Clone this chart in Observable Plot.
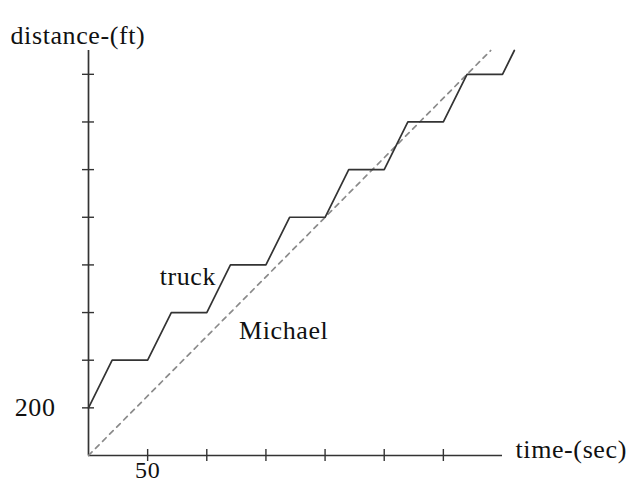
<!DOCTYPE html>
<html>
<head>
<meta charset="utf-8">
<script src="https://cdn.jsdelivr.net/npm/d3@7"></script>
<script src="https://cdn.jsdelivr.net/npm/@observablehq/plot@0.6"></script>
<style>
  html, body { margin: 0; padding: 0; background: white; }
</style>
</head>
<body>
<div id="chart"></div>
<script>
// Truck: moves 200 ft in 20 s, then stops 30 s at each pail
const truckTime = [0, 20, 50, 70, 100, 120, 150, 170, 200, 220, 250, 270, 300, 320, 350, 360];
const truckDist = [200, 400, 400, 600, 600, 800, 800, 1000, 1000, 1200, 1200, 1400, 1400, 1600, 1600, 1700];
// Michael: walks at 5 ft/s
const michaelTime = [0, 340];
const michaelDist = [0, 1700];
// Ticks
const xTicks = [50, 100, 150, 200, 250, 300];
const yTicks = [200, 400, 600, 800, 1000, 1200, 1400, 1600];
const xTickLabels = [{t: 50, label: "50"}];
const yTickLabels = [{d: 200, label: "200"}];
const curveLabels = [
  {t: 84, d: 750, label: "truck"},
  {t: 165, d: 525, label: "Michael"}
];
const xLabel = "time-(sec)";
const yLabel = "distance-(ft)";

const truck = truckTime.map((t, i) => ({t, d: truckDist[i]}));
const michael = michaelTime.map((t, i) => ({t, d: michaelDist[i]}));

const font = "Liberation Serif";
const ink = "#333";
const fs = 26;

const chart = Plot.plot({
  width: 629,
  height: 484,
  marginLeft: 88,
  marginRight: 127,
  marginTop: 50,
  marginBottom: 29,
  x: {domain: [0, 350]},
  y: {domain: [0, 1700]},
  axis: null,
  style: {fontFamily: font, background: "white", color: "#111", letterSpacing: "0.6px"},
  marks: [
    // axes lines
    Plot.ruleX([0], {stroke: ink, strokeWidth: 1.7}),
    Plot.ruleY([0], {stroke: ink, strokeWidth: 1.7}),
    // tick marks crossing the axes
    Plot.ruleX(xTicks, {x: d => d, y1: 0, y2: 0, insetTop: -6, insetBottom: -6, stroke: ink, strokeWidth: 1.4}),
    Plot.ruleY(yTicks, {y: d => d, x1: 0, x2: 0, insetLeft: -6, insetRight: -6, stroke: ink, strokeWidth: 1.4}),
    // Michael dashed line
    Plot.line(michael, {x: "t", y: "d", stroke: "#8a8a8a", strokeWidth: 1.7, strokeDasharray: "5,5"}),
    // truck polyline
    Plot.line(truck, {x: "t", y: "d", stroke: ink, strokeWidth: 1.7}),
    // tick labels
    Plot.text(xTickLabels, {x: "t", y: 0, text: "label", dy: 15, fontSize: 24, fill: "#111"}),
    Plot.text(yTickLabels, {x: 0, y: "d", text: "label", dx: -33, textAnchor: "end", fontSize: fs, fill: "#111"}),
    // curve labels
    Plot.text(curveLabels, {x: "t", y: "d", text: "label", fontSize: fs, fill: "#111"}),
    // axis labels
    Plot.text([yLabel], {frameAnchor: "top-left", dx: -78, dy: -25, textAnchor: "start", fontSize: fs, fill: "#111"}),
    Plot.text([xLabel], {frameAnchor: "bottom-right", dx: 13, dy: 2, textAnchor: "start", fontSize: fs, fill: "#111"})
  ]
});
document.getElementById("chart").appendChild(chart);
</script>
</body>
</html>
